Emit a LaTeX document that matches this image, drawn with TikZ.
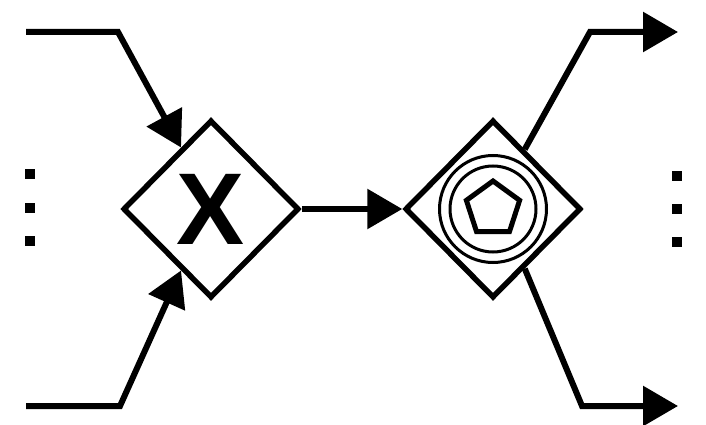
\documentclass[tikz,border=0pt]{standalone}
\usepackage{fontspec}
\setmainfont{Liberation Sans}
\usetikzlibrary{arrows.meta,shapes.geometric}
\tikzset{
  gateway/.style={draw, diamond, line width=5.5pt, minimum width=176pt, minimum height=178pt, inner sep=0pt, fill=white},
  flow/.style={line width=6pt, -{Triangle[length=35pt,width=39pt]}},
  ring/.style={draw, circle, line width=3pt, inner sep=0pt},
}
\begin{document}
\begin{tikzpicture}[x=1pt,y=-1pt]
\useasboundingbox (0,0) rectangle (706,425);
\node[gateway] (xor) at (211,209) {};
\node[font=\fontsize{102}{102}\selectfont\bfseries, inner sep=0pt] (xmark) at (xor) {X};
\node[gateway] (event) at (493,209) {};
\node[ring, minimum size=107pt] (outer) at (event) {};
\node[ring, minimum size=86pt] (inner) at (event) {};
\node[draw, regular polygon, regular polygon sides=5, minimum size=56pt, line width=5pt, inner sep=0pt] (pent) at (event) {};
% incoming flows
\coordinate (in1) at (26,32);
\coordinate (bend1) at (118,32);
\coordinate (in2) at (26,406);
\coordinate (bend2) at (120,406);
\draw[flow] (in1) -- (bend1) -- (xor.116);
\draw[flow] (in2) -- (bend2) -- (xor.244);
\draw[flow] (xor.east) -- (event.west);
% outgoing flows
\coordinate (bend3) at (590,32);
\coordinate (out1) at (678,32);
\coordinate (bend4) at (582,406);
\coordinate (out2) at (678,406);
\draw[flow] (event.62) -- (bend3) -- (out1);
\draw[flow] (event.298) -- (bend4) -- (out2);
% dots
\foreach \y in {174,208,241} \fill (25,\y-5) rectangle (35,\y+5);
\foreach \y in {176,209,242} \fill (672,\y-5) rectangle (682,\y+5);
\end{tikzpicture}
\end{document}
